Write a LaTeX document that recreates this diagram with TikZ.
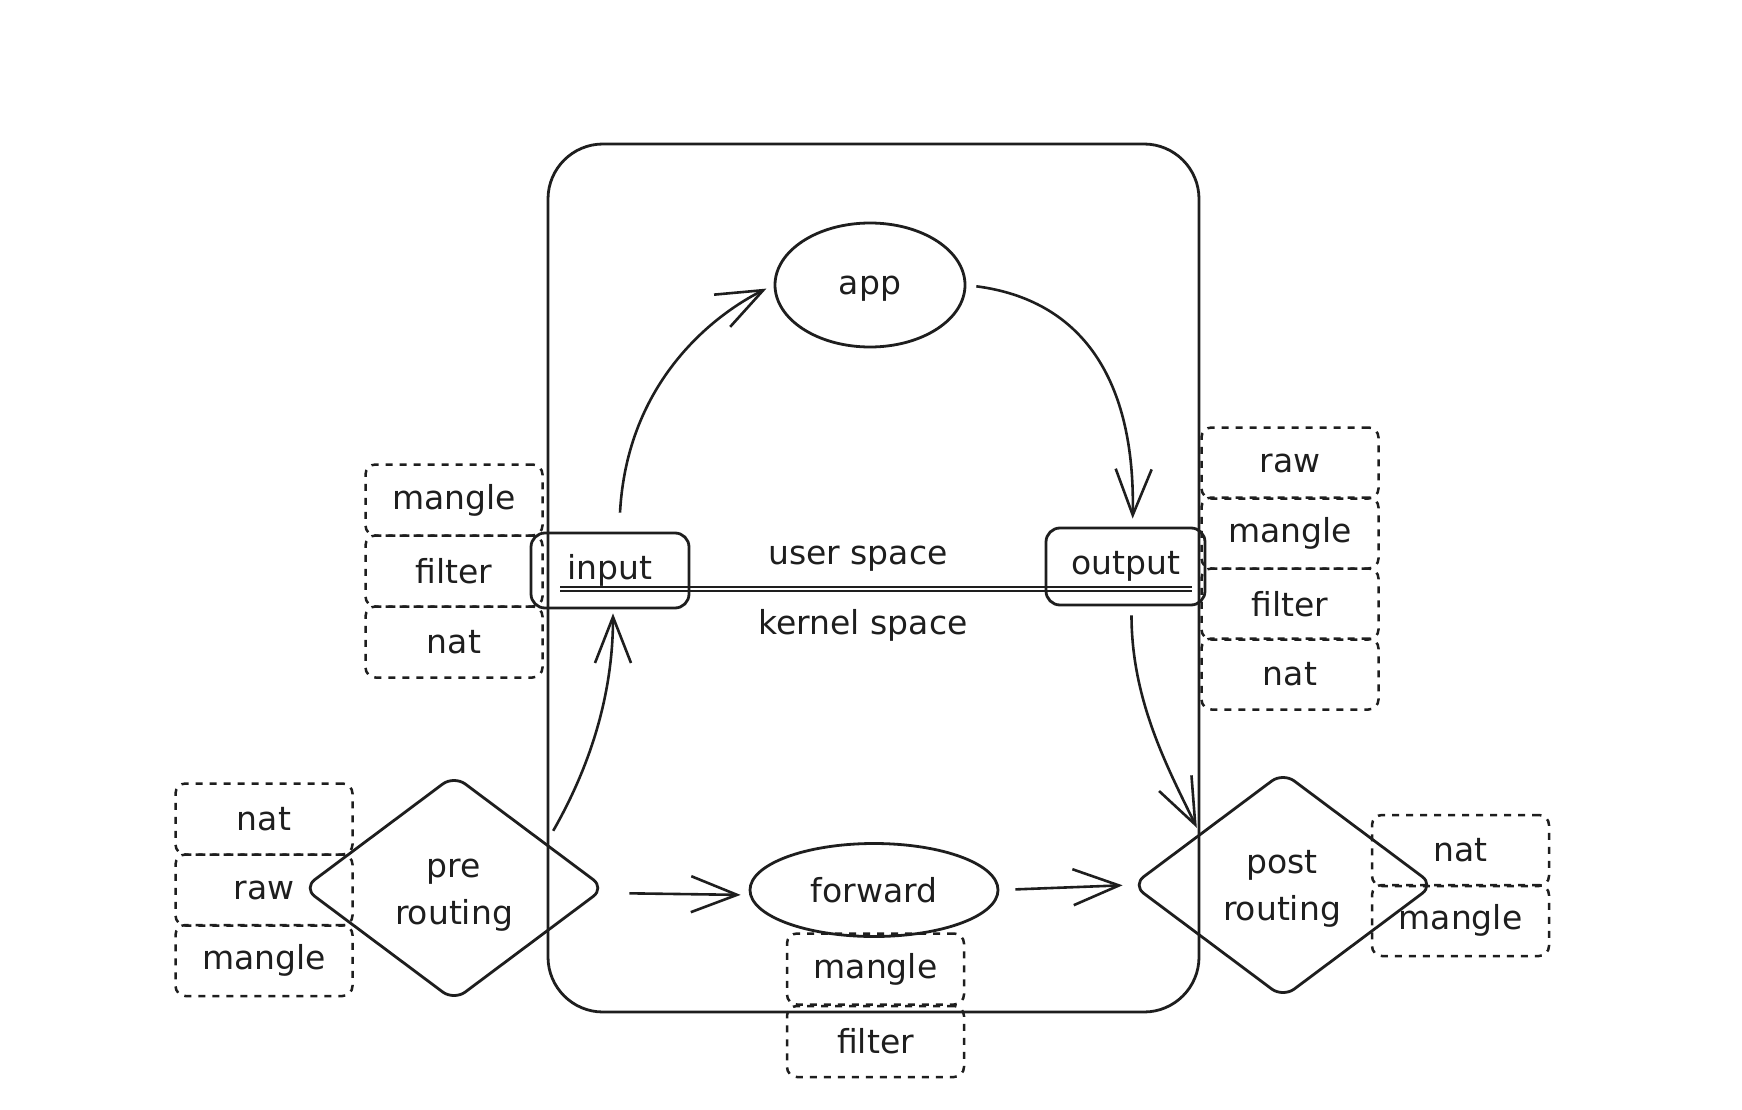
\documentclass[tikz,border=0pt]{standalone}
\usepackage{fontspec}
\setmainfont{DejaVu Sans}
\usetikzlibrary{shapes.geometric,arrows.meta}
\definecolor{ink}{HTML}{1E1E1E}
\begin{document}
\begin{tikzpicture}[x=1pt,y=-1pt,
  every node/.style={font=\fontsize{33}{47}\selectfont, text=ink, inner sep=0pt},
  line/.style={draw=ink, line width=2.8pt},
  tbox/.style={line, rounded corners=14pt},
  dbox/.style={draw=ink, line width=2.5pt, dash pattern=on 7pt off 7pt,
               rounded corners=10pt, minimum width=177pt, minimum height=71pt},
  oval/.style={line, ellipse},
  hook/.style={line, diamond, rounded corners=14pt, minimum width=302pt,
               minimum height=226pt},
  arr/.style={draw=ink, line width=2.6pt, -{Straight Barb[length=46pt,width=36pt]}},
]
\useasboundingbox (0,0) rectangle (1742,1110);

% host boundary
\node[line, rounded corners=55pt, minimum width=651pt, minimum height=868pt] (host) at (873.5,578) {};

% user / kernel separator
\draw[ink, line width=1.5pt, double, double distance=2.2pt] (560,589) -- (1192,589);
\node (us) at (858,559) {user space};
\node (ks) at (863,625) {kernel space};

% tables at input
\node[dbox] (inMangle) at (454,500) {mangle};
\node[dbox] (inFilter) at (454,571) {filter};
\node[dbox] (inNat)    at (454,642) {nat};

% tables at output
\node[dbox] (outRaw)    at (1290,463) {raw};
\node[dbox] (outMangle) at (1290,533) {mangle};
\node[dbox] (outFilter) at (1290,604) {filter};
\node[dbox] (outNat)    at (1290,674) {nat};

% tables at prerouting
\node[dbox] (preNat)    at (264,819) {nat};
\node[dbox] (preRaw)    at (264,890) {raw};
\node[dbox] (preMangle) at (264,960.5) {mangle};

% tables at postrouting
\node[dbox] (postNat)    at (1460.5,850.5) {nat};
\node[dbox] (postMangle) at (1460.5,920.5) {mangle};

% tables at forward
\node[dbox] (fwdMangle) at (875.5,969) {mangle};
\node[dbox] (fwdFilter) at (875.5,1041.5) {filter};

% hooks
\node[oval, minimum width=190pt, minimum height=124pt, text depth=0pt] (app) at (870,285) {app};
\node[oval, minimum width=248pt, minimum height=93pt] (fwd) at (874,890) {forward};
\node[tbox, minimum width=158pt, minimum height=75pt] (input) at (610,570.5) {input};
\node[tbox, minimum width=159pt, minimum height=77pt] (output) at (1125.5,566.5) {output};
\node[hook] (pre) at (454,888) {};
\node[align=center] (preLabel) at (454,895) {pre\\routing};
\node[hook] (post) at (1283,885) {};
\node[align=center] (postLabel) at (1282,889) {post\\routing};

% packet paths
\draw[arr, shorten <=19pt, shorten >=8pt]
  ([xshift=9pt]input.north) .. controls +(8,-150) and +(-60,30) .. (app.west);
\draw[arr, shorten <=10pt, shorten >=8pt]
  (app.east) .. controls +(115,15) and +(3,-148) .. ([xshift=7pt]output.north);
\draw[arr, shorten >=4pt]
  ([xshift=23pt]pre.north east) .. controls +(40,-70) and +(0,80) .. ([xshift=3pt]input.south);
\draw[arr, shorten <=9pt]
  ([xshift=6pt]output.south) .. controls +(0,95) and +(-28,-58) .. ([xshift=-10pt]post.north west);
\draw[arr, shorten <=23pt, shorten >=8pt]
  ([yshift=-5pt]pre.east) -- ([yshift=-5pt]fwd.west);
\draw[arr, shorten <=16pt, shorten >=8pt]
  (fwd.east) -- (post.west);
\end{tikzpicture}
\end{document}
